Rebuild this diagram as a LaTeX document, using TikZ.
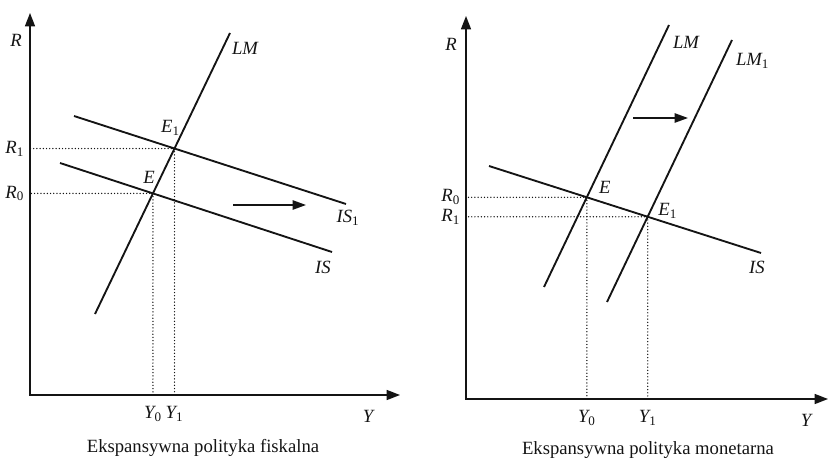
\documentclass[tikz,border=0pt]{standalone}
\usepackage{fontspec}
\setmainfont{Liberation Serif}
\usetikzlibrary{arrows.meta, positioning, calc}
\definecolor{cink}{HTML}{141414}
\tikzset{
  every picture/.style={line width=1pt},
  axis/.style={draw=cink, line width=1.1pt, {Triangle[length=10pt, width=7.5pt]}-{Triangle[length=10pt, width=7.5pt]}},
  curve/.style={draw=cink, line width=1.4pt},
  guide/.style={draw=cink, line width=1.1pt, line cap=round, dash pattern=on 0pt off 2.4pt},
  shiftarrow/.style={draw=cink, line width=1.1pt, -{Triangle[length=10pt, width=7pt]}},
  lab/.style={font=\fontsize{14}{16}\selectfont\itshape, text=cink, inner sep=1pt},
  caption/.style={font=\fontsize{14}{16}\selectfont, text=cink},
}
\newcommand{\lsub}[2]{#1\textsubscript{\upshape #2}}

\begin{document}
\begin{tikzpicture}[x=0.75pt, y=-0.75pt]
  \useasboundingbox (0,0) rectangle (828,460);
  % left panel: fiscal expansion
  \coordinate (o1) at (30,395);
  \coordinate (rtop1) at (30,13);
  \coordinate (yend1) at (400,395);
  \draw[axis] (rtop1) -- (o1) -- (yend1);
  \coordinate (lmA1) at (95,314);  \coordinate (lmB1) at (230,33);
  \coordinate (isA1) at (60,163);  \coordinate (isB1) at (332,252);
  \coordinate (isnA1) at (74,116); \coordinate (isnB1) at (346,204);
  \draw[curve] (lmA1) -- (lmB1);
  \draw[curve] (isA1) -- (isB1);
  \draw[curve] (isnA1) -- (isnB1);
  \coordinate (E0) at (intersection of lmA1--lmB1 and isA1--isB1);
  \coordinate (E1) at (intersection of lmA1--lmB1 and isnA1--isnB1);
  \draw[guide] (E0) -- (E0 -| o1);
  \draw[guide] (E0) -- (E0 |- o1);
  \draw[guide] (E1) -- (E1 -| o1);
  \draw[guide] (E1) -- (E1 |- o1);
  \coordinate (sa1) at (233,205); \coordinate (sb1) at (306,205);
  \draw[shiftarrow] (sa1) -- (sb1);
  \node[lab] (rlab1) at (16,40) {R};
  \node[lab, left=3pt] (r0lab1) at (E0 -| o1) {\lsub{R}{0}};
  \node[lab, left=3pt] (r1lab1) at (E1 -| o1) {\lsub{R}{1}};
  \node[lab, below=7pt] (y0lab1) at (E0 |- o1) {\lsub{Y}{0}};
  \node[lab, below=7pt] (y1lab1) at (E1 |- o1) {\lsub{Y}{1}};
  \node[lab] (ylab1) at (368,416) {Y};
  \node[lab] (elab1) at ($(E0)+(-4,-16)$) {E};
  \node[lab] (e1lab1) at ($(E1)+(-4,-21)$) {\lsub{E}{1}};
  \node[lab, anchor=west] (lmlab1) at ($(lmB1)+(0,15)$) {LM};
  \node[lab] (islab1) at ($(isB1)+(-9,15)$) {IS};
  \node[lab] (isnlab1) at ($(isnB1)+(2,14)$) {\lsub{IS}{1}};
  \node[caption] (cap1) at (203,448) {Ekspansywna polityka fiskalna};
  % right panel: monetary expansion
  \coordinate (o2) at (466,399);
  \coordinate (rtop2) at (466,16);
  \coordinate (yend2) at (828,399);
  \draw[axis] (rtop2) -- (o2) -- (yend2);
  \coordinate (lmA2) at (544,287);  \coordinate (lmB2) at (669,25);
  \coordinate (lmnA2) at (607,302); \coordinate (lmnB2) at (732,40);
  \coordinate (isA2) at (489,166);  \coordinate (isB2) at (761,253);
  \draw[curve] (lmA2) -- (lmB2);
  \draw[curve] (lmnA2) -- (lmnB2);
  \draw[curve] (isA2) -- (isB2);
  \coordinate (F0) at (intersection of lmA2--lmB2 and isA2--isB2);
  \coordinate (F1) at (intersection of lmnA2--lmnB2 and isA2--isB2);
  \draw[guide] (F0) -- (F0 -| o2);
  \draw[guide] (F0) -- (F0 |- o2);
  \draw[guide] (F1) -- (F1 -| o2);
  \draw[guide] (F1) -- (F1 |- o2);
  \coordinate (sa2) at (633,118); \coordinate (sb2) at (688,118);
  \draw[shiftarrow] (sa2) -- (sb2);
  \node[lab] (rlab2) at (451,44) {R};
  \node[lab, left=3pt] (r0lab2) at (F0 -| o2) {\lsub{R}{0}};
  \node[lab, left=3pt] (r1lab2) at (F1 -| o2) {\lsub{R}{1}};
  \node[lab, below=7pt] (y0lab2) at (F0 |- o2) {\lsub{Y}{0}};
  \node[lab, below=7pt] (y1lab2) at (F1 |- o2) {\lsub{Y}{1}};
  \node[lab] (ylab2) at (806,420) {Y};
  \node[lab] (elab2) at ($(F0)+(18,-10)$) {E};
  \node[lab] (e1lab2) at ($(F1)+(20,-6)$) {\lsub{E}{1}};
  \node[lab, anchor=west] (lmlab2) at ($(lmB2)+(2,17)$) {LM};
  \node[lab, anchor=west] (lmnlab2) at ($(lmnB2)+(2,21)$) {\lsub{LM}{1}};
  \node[lab] (islab2) at ($(isB2)+(-4,14)$) {IS};
  \node[caption] (cap2) at (648,450) {Ekspansywna polityka monetarna};
\end{tikzpicture}
\end{document}
